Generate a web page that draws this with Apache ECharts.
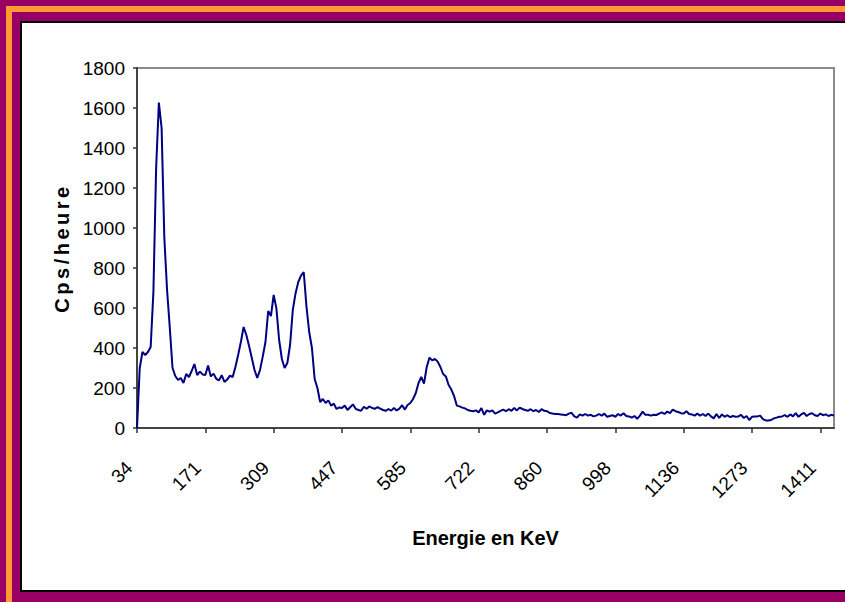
<!DOCTYPE html>
<html>
<head>
<meta charset="utf-8">
<script src="https://cdn.jsdelivr.net/npm/echarts@6/dist/echarts.min.js"></script>
<style>
  html, body { margin: 0; padding: 0; width: 845px; height: 602px; overflow: hidden; background: #990066; }
  #stripe { position: absolute; left: 6px; top: 6px; width: 1000px; height: 1000px; border: 6px solid #FF9933; box-sizing: border-box; }
  #panel { position: absolute; left: 20px; top: 21px; width: 1000px; height: 571px; background: #fff; border: 2px solid #000; box-sizing: border-box; }
  #chart { position: absolute; left: 0; top: 0; width: 845px; height: 602px; }
</style>
</head>
<body>
<div id="stripe"></div>
<div id="panel"></div>
<div id="chart"></div>
<script>
// Gamma spectrum: counts per hour, one value every 4 channels (channel 0 .. 1020)
const channelStep = 4;

// Energy labels shown every 100 channels
const tickLabels = ['34', '171', '309', '447', '585', '722', '860', '998', '1136', '1273', '1411'];

// Counts per hour (Cps/heure)
const counts = [
  0, 300, 380, 365, 380, 405, 680, 1300, 1627, 1500,
  950, 690, 500, 300, 260, 240, 250, 225, 270, 255,
  285, 320, 265, 282, 268, 265, 312, 258, 272, 246,
  238, 264, 230, 242, 262, 255, 305, 365, 430, 505,
  465, 410, 350, 290, 250, 290, 357, 430, 585, 560,
  665, 598, 440, 345, 300, 325, 415, 590, 673, 730,
  762, 780, 607, 480, 400, 245, 200, 130, 145, 125,
  138, 112, 122, 95, 103, 100, 112, 90, 104, 118,
  96, 90, 86, 106, 96, 108, 100, 96, 104, 97,
  90, 86, 95, 87, 100, 88, 97, 114, 92, 115,
  125, 145, 175, 225, 255, 222, 305, 352, 338, 345,
  332, 305, 270, 258, 215, 192, 160, 112, 108, 102,
  98, 90, 86, 84, 88, 78, 100, 66, 88, 82,
  88, 72, 78, 86, 92, 84, 94, 86, 100, 88,
  102, 95, 90, 86, 94, 84, 90, 80, 94, 86,
  84, 75, 72, 70, 70, 68, 66, 64, 72, 76,
  58, 52, 68, 62, 70, 62, 66, 58, 62, 70,
  62, 72, 56, 60, 64, 56, 70, 62, 74, 60,
  58, 52, 60, 46, 62, 82, 66, 66, 62, 66,
  65, 72, 78, 70, 82, 74, 92, 84, 80, 74,
  72, 84, 70, 68, 62, 72, 62, 70, 60, 72,
  58, 48, 70, 50, 68, 56, 64, 54, 60, 56,
  58, 66, 50, 60, 40, 56, 58, 58, 62, 44,
  38, 37, 40, 48, 52, 56, 58, 64, 56, 68,
  58, 74, 56, 68, 76, 60, 70, 74, 64, 60,
  72, 64, 68, 60, 66, 62
];

const yMin = 0, yMax = 1800, yStep = 200;
const labelEvery = 100 / channelStep;
const yTitle = 'Cps/heure';
const xTitle = 'Energie en KeV';

const channels = counts.map((_, i) => String(i * channelStep));
const fontFamily = '"Liberation Sans", Arial, sans-serif';

const chart = echarts.init(document.getElementById('chart'), null, { renderer: 'svg' });
chart.setOption({
  animation: false,
  backgroundColor: 'transparent',
  grid: {
    left: 137, top: 68, width: 697, height: 360,
    show: true, borderColor: '#8a8a8a', borderWidth: 2, backgroundColor: 'transparent'
  },
  xAxis: {
    type: 'category',
    data: channels,
    boundaryGap: false,
    name: xTitle,
    nameLocation: 'middle',
    nameGap: 100,
    nameTextStyle: { fontFamily, fontSize: 20, fontWeight: 'bold', color: '#000' },
    axisLine: { lineStyle: { color: '#444', width: 2 } },
    axisTick: { interval: (i) => i % labelEvery === 0, length: 5, lineStyle: { color: '#333', width: 1.5 } },
    axisLabel: {
      interval: (i) => i % labelEvery === 0,
      formatter: (v, i) => tickLabels[i / labelEvery] || '',
      rotate: 45,
      margin: 29,
      padding: [0, 11, 0, 0],
      fontFamily, fontSize: 19, color: '#000'
    },
    splitLine: { show: false }
  },
  yAxis: {
    type: 'value',
    min: yMin, max: yMax, interval: yStep,
    name: yTitle,
    nameLocation: 'middle',
    nameGap: 62,
    nameTextStyle: { fontFamily, fontSize: 20, fontWeight: 'bold', color: '#000' },
    axisLine: { show: true, lineStyle: { color: '#444', width: 2 } },
    axisTick: { show: true, length: 4, lineStyle: { color: '#333', width: 1.5 } },
    axisLabel: { margin: 12, fontFamily, fontSize: 19, color: '#000', formatter: (v) => String(v) },
    splitLine: { show: false }
  },
  series: [{
    type: 'line',
    data: counts,
    showSymbol: false,
    symbol: 'none',
    lineStyle: { color: '#000080', width: 2 },
    z: 3
  }]
});

// The vertical axis title is set with wide letter spacing
document.querySelectorAll('#chart text').forEach((t) => {
  if (t.textContent === yTitle) t.setAttribute('letter-spacing', '3.5');
});
</script>
</body>
</html>
